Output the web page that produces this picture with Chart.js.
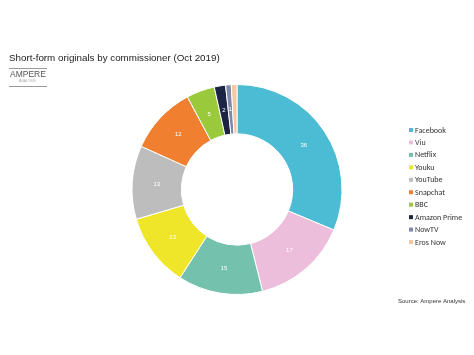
<!DOCTYPE html>
<html><head><meta charset="utf-8">
<script src="https://cdn.jsdelivr.net/npm/chart.js@4/dist/chart.umd.min.js"></script>
<style>html,body{margin:0;padding:0;background:#fff;}#wrap{width:474px;height:355px;position:relative;}</style>
</head><body><div id="wrap"><canvas id="c" width="474" height="355"></canvas></div>
<script>
const categories = ["Facebook","Viu","Netflix","Youku","YouTube","Snapchat","BBC","Amazon Prime","NowTV","Eros Now"];
const values = [36,17,15,13,13,12,5,2,1,1];
const colors = ["#4BBCD3","#EDBEDB","#74C1AE","#F0E629","#BDBDBD","#F07F2F","#9BC93C","#1C2444","#7D88AA","#F6C7A3"];
const titleText = "Short-form originals by commissioner (Oct 2019)";
const sourceText = "Source: Ampere Analysis";

const extras = {
  id: 'extras',
  afterDraw(chart) {
    const ctx = chart.ctx;
    ctx.save();
    // title
    ctx.fillStyle = '#222';
    ctx.font = '9.8px "Liberation Sans", Arial, sans-serif';
    ctx.textBaseline = 'middle';
    ctx.textAlign = 'left';
    ctx.fillText(titleText, 9, 58);
    // logo
    ctx.strokeStyle = '#999';
    ctx.lineWidth = 1;
    ctx.beginPath(); ctx.moveTo(9, 68.5); ctx.lineTo(47, 68.5); ctx.stroke();
    ctx.beginPath(); ctx.moveTo(9, 86.5); ctx.lineTo(47, 86.5); ctx.stroke();
    ctx.fillStyle = '#555';
    ctx.font = '8.5px "Liberation Sans", Arial, sans-serif';
    ctx.fillText('AMPERE', 10, 75);
    ctx.fillStyle = '#aaa';
    ctx.font = '3.5px "Liberation Sans", Arial, sans-serif';
    ctx.fillText('ANALYSIS', 19, 81.5);
    // source
    ctx.fillStyle = '#333';
    ctx.font = '6px "Liberation Sans", Arial, sans-serif';
    ctx.fillText(sourceText, 398, 301);
    // legend
    ctx.font = '8px "Carlito", "Liberation Sans", Arial, sans-serif';
    categories.forEach((name, i) => {
      const y = 130 + i * 12.45;
      ctx.fillStyle = colors[i];
      ctx.fillRect(409, y - 2, 4, 4);
      ctx.fillStyle = '#333';
      ctx.fillText(name, 415, y + 0.5);
    });
    // data labels
    const meta = chart.getDatasetMeta(0);
    ctx.font = '6px "Liberation Sans", Arial, sans-serif';
    ctx.textAlign = 'center';
    ctx.fillStyle = '#fff';
    meta.data.forEach((arc, i) => {
      if (i >= 9) return;
      const p = arc.getProps(['startAngle','endAngle','innerRadius','outerRadius','x','y'], true);
      const a = (p.startAngle + p.endAngle) / 2;
      const r = (p.innerRadius + p.outerRadius) / 2;
      ctx.fillText(String(values[i]), p.x + Math.cos(a) * r, p.y + Math.sin(a) * r);
    });
    ctx.restore();
  }
};

new Chart(document.getElementById('c'), {
  type: 'doughnut',
  data: { labels: categories, datasets: [{ data: values, backgroundColor: colors, borderColor: '#fff', borderWidth: 1 }] },
  options: {
    responsive: false, animation: false, cutout: '53%',
    layout: { padding: { left: 131, right: 131, top: 84, bottom: 60 } },
    plugins: { legend: { display: false }, tooltip: { enabled: false } }
  },
  plugins: [extras]
});
</script></body></html>
